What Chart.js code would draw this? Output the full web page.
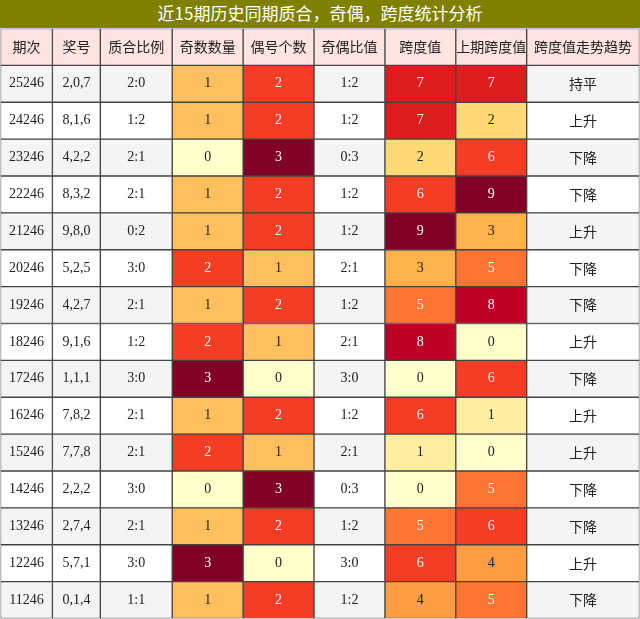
<!DOCTYPE html>
<html><head><meta charset="utf-8">
<script src="https://cdn.jsdelivr.net/npm/chart.js@4"></script>
<style>
html,body{margin:0;padding:0;background:#fff;}
#title{height:28px;line-height:28px;background:#808000;color:#fff;text-align:center;font:17px "Noto Sans CJK SC",sans-serif;width:640px;}
#wrap{width:640px;height:591px;position:relative;}
</style></head><body>
<div id="title">近15期历史同期质合，奇偶，跨度统计分析</div>
<div id="wrap"><canvas id="c"></canvas></div>
<script>
const headers=['期次','奖号','质合比例','奇数数量','偶号个数','奇偶比值','跨度值','上期跨度值','跨度值走势趋势'];
const colWidths=[52,48,72,71,71,71,71,71,113];
const periods=['25246','24246','23246','22246','21246','20246','19246','18246','17246','16246','15246','14246','13246','12246','11246'];
const numbers=['2,0,7','8,1,6','4,2,2','8,3,2','9,8,0','5,2,5','4,2,7','9,1,6','1,1,1','7,8,2','7,7,8','2,2,2','2,7,4','5,7,1','0,1,4'];
const zhiHe=['2:0','1:2','2:1','2:1','0:2','3:0','2:1','1:2','3:0','2:1','2:1','3:0','2:1','3:0','1:1'];
const oddCount=[1,1,0,1,1,2,1,2,3,1,2,0,1,3,1];
const evenCount=[2,2,3,2,2,1,2,1,0,2,1,3,2,0,2];
const oddEvenRatio=['1:2','1:2','0:3','1:2','1:2','2:1','1:2','2:1','3:0','1:2','2:1','0:3','1:2','3:0','1:2'];
const span=[7,7,2,6,9,3,5,8,0,6,1,0,5,6,4];
const prevSpan=[7,2,6,9,3,5,8,0,6,1,0,5,6,4,5];
const trend=['持平','上升','下降','下降','上升','下降','下降','上升','下降','上升','上升','下降','下降','上升','下降'];

const c4=['#ffffcc','#fec05f','#f43d25','#800026'];
const c10=['#ffffcc','#ffeda0','#fed976','#feb24c','#fd9d43','#fd7535','#f43d25','#dd1c20','#bd0026','#800026'];
const cols=[periods,numbers,zhiHe,oddCount,evenCount,oddEvenRatio,span,prevSpan,trend];
const rows=['h',...periods];
function bg(ci,ri){
  if(ri===0) return '#fde4e1';
  const r=ri-1;
  if(ci===3||ci===4) return c4[cols[ci][r]];
  if(ci===6||ci===7) return c10[cols[ci][r]];
  return r%2===0?'#f4f4f4':'#ffffff';
}
function fg(ci,ri){
  if(ri===0) return '#222';
  const v=cols[ci][ri-1];
  if((ci===3||ci===4)&&v>=2) return '#fff';
  if((ci===6||ci===7)&&v>=5) return '#fff';
  return '#222';
}
const datasets=colWidths.map((w,ci)=>({
  data:rows.map(()=>w),
  backgroundColor:rows.map((_,ri)=>bg(ci,ri)),
  borderColor:'#444',borderWidth:1,borderSkipped:false,
  categoryPercentage:1,barPercentage:1
}));
const textPlugin={id:'txt',afterDatasetsDraw(chart){
  const ctx=chart.ctx;
  ctx.save();ctx.textAlign='center';ctx.textBaseline='middle';
  chart.data.datasets.forEach((ds,ci)=>{
    chart.getDatasetMeta(ci).data.forEach((el,ri)=>{
      const cx=(el.x+el.base)/2, cy=el.y;
      let t;
      if(ri===0){t=headers[ci];ctx.font='14px "Noto Sans CJK SC",sans-serif';}
      else{t=String(cols[ci][ri-1]);
        ctx.font=(ci===8)?'14px "Noto Sans CJK SC",sans-serif':'14px "Liberation Serif",serif';}
      ctx.fillStyle=fg(ci,ri);
      ctx.fillText(t,cx,cy);
    });
  });
  ctx.restore();
}};
new Chart(document.getElementById('c'),{
  type:'bar',
  data:{labels:rows,datasets},
  options:{indexAxis:'y',responsive:true,maintainAspectRatio:false,animation:false,
    layout:{padding:{left:0.5,right:0.5,top:0.5,bottom:0.5}},
    scales:{x:{stacked:true,min:0,max:640,display:false},y:{stacked:true,display:false}},
    plugins:{legend:{display:false},tooltip:{enabled:false},title:{display:false}}},
  plugins:[textPlugin]
});
</script></body></html>
